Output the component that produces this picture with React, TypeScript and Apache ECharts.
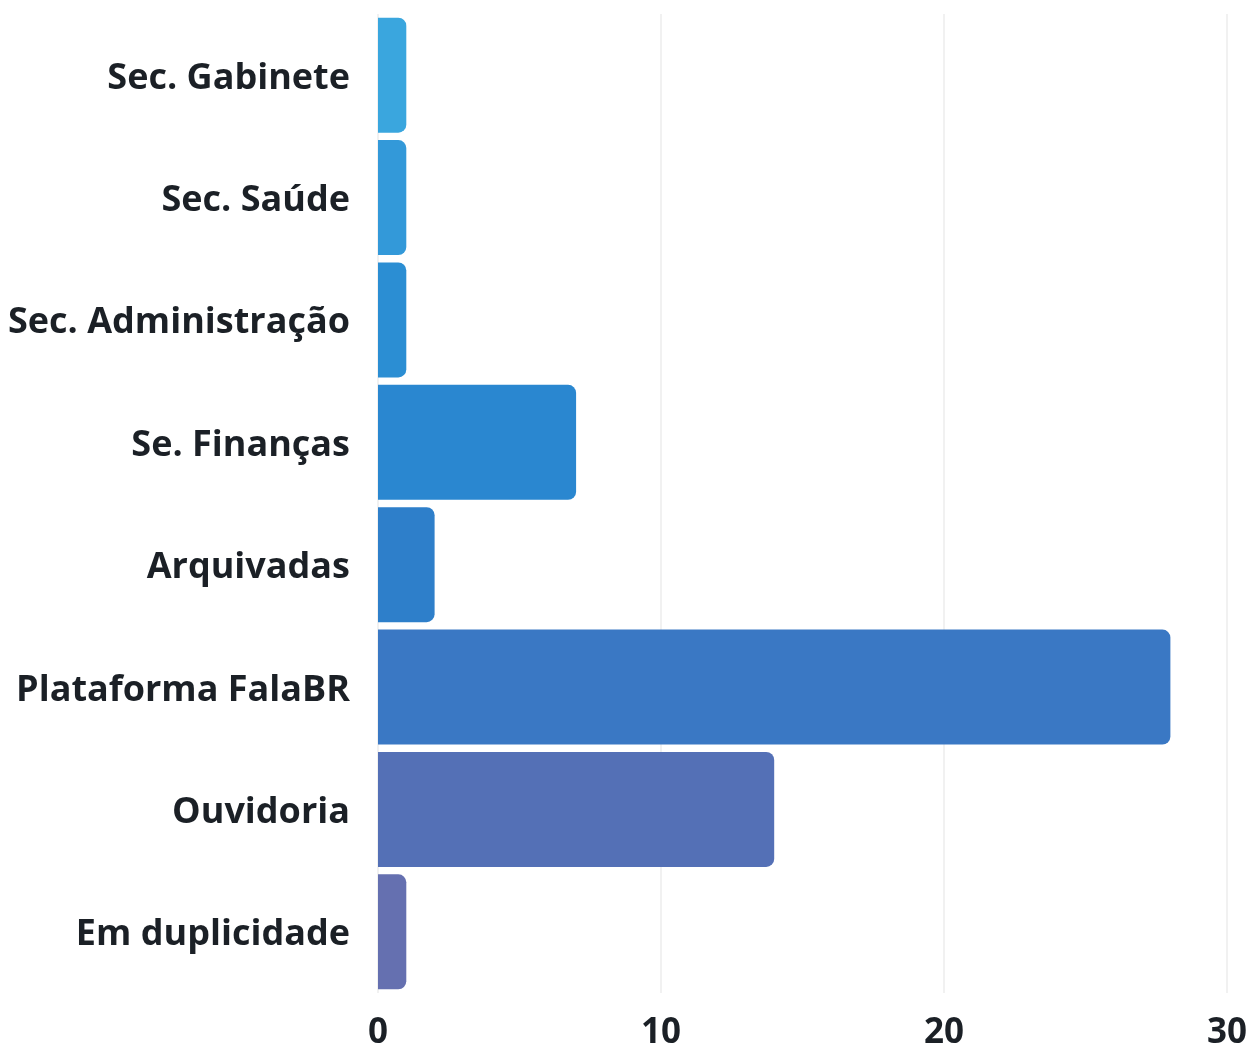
import React, { useEffect, useRef } from "react";
import * as echarts from "echarts";

const categories = [
  "Sec. Gabinete",
  "Sec. Saúde",
  "Sec. Administração",
  "Se. Finanças",
  "Arquivadas",
  "Plataforma FalaBR",
  "Ouvidoria",
  "Em duplicidade",
];
const values = [1, 1, 1, 7, 2, 28, 14, 1];
const barColors = [
  "#3aa6de",
  "#3399d9",
  "#2b8ed3",
  "#2a87d0",
  "#2e7fca",
  "#3a78c4",
  "#5470b6",
  "#6570b0",
];
const xTicks = [0, 10, 20, 30];

export default function App() {
  const ref = useRef<HTMLDivElement>(null);
  useEffect(() => {
    if (!ref.current) return;
    const chart = echarts.init(ref.current, null, { renderer: "svg" });
    const cats = [...categories].reverse();
    const vals = [...values].reverse();
    const cols = [...barColors].reverse();
    chart.setOption({
      animation: false,
      grid: { left: 378, right: 20, top: 14, bottom: 64, containLabel: false },
      xAxis: {
        type: "value",
        min: xTicks[0],
        max: xTicks[xTicks.length - 1],
        interval: 10,
        axisLine: { show: false },
        axisTick: { show: false },
        splitLine: { show: true, lineStyle: { color: "#ececec", width: 1.5 } },
        axisLabel: {
          margin: 19,
          color: "#1b2026",
          fontFamily: "Open Sans",
          fontWeight: "bold",
          fontSize: 35,
          lineHeight: 34,
        },
      },
      yAxis: {
        type: "category",
        data: cats,
        axisLine: { show: false },
        axisTick: { show: false },
        splitLine: { show: false },
        axisLabel: {
          margin: 28,
          color: "#1b2026",
          fontFamily: "Open Sans",
          fontWeight: "bold",
          fontSize: 36,
        },
      },
      series: [
        {
          type: "bar",
          barCategoryGap: "6%",
          data: vals.map((v, i) => ({
            value: v,
            itemStyle: { color: cols[i], borderRadius: [0, 8, 8, 0] },
          })),
        },
      ],
    });
    return () => chart.dispose();
  }, []);
  return (
    <div
      ref={ref}
      style={{ position: "fixed", left: 0, top: 0, width: 1250, height: 1057 }}
    />
  );
}
